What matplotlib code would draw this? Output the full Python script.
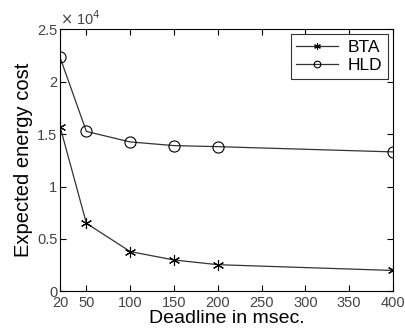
import matplotlib
matplotlib.use("Agg")
import matplotlib.pyplot as plt
from matplotlib.ticker import FuncFormatter

plt.rcParams['font.family'] = ['Liberation Sans', 'DejaVu Sans']

deadline = [20, 50, 100, 150, 200, 400]
bta = [15700, 6500, 3800, 3000, 2550, 2000]
hld = [22300, 15250, 14250, 13900, 13800, 13300]
xticks = [20, 50, 100, 150, 200, 250, 300, 350, 400]
yticks = [0, 5000, 10000, 15000, 20000, 25000]

fig = plt.figure(figsize=(4.06, 3.35), dpi=100)
ax = fig.add_axes([0.148, 0.13, 0.820, 0.783])

asterisk = (6, 2, 0)
ax.plot(deadline, bta, color="#333333", lw=0.9, marker=asterisk, ms=8,
        mec="black", mfc="none", mew=0.8, label="BTA")
ax.plot(deadline, hld, color="#333333", lw=0.9, marker="o", ms=8,
        mec="black", mfc="none", mew=0.8, label="HLD")

ax.set_xlim(20, 400)
ax.set_ylim(0, 25000)
ax.set_xticks(xticks)
ax.set_yticks(yticks)
ax.yaxis.set_major_formatter(FuncFormatter(lambda v, p: "%g" % (v / 1e4)))
ax.text(0.0, 1.005, r"$\times$ 10$^4$", transform=ax.transAxes, ha="left",
        va="bottom", fontsize=10.5, color="#444444")

ax.tick_params(direction="in", top=True, right=True, length=4,
               labelsize=10.5, labelcolor="#444444", pad=2)
ax.tick_params(axis="x", pad=3)
for s in ax.spines.values():
    s.set_linewidth(0.8)

ax.set_xlabel("Deadline in msec.", fontsize=14, labelpad=0)
ax.set_ylabel("Expected energy cost", fontsize=14.5, labelpad=3)

leg = ax.legend(loc="upper right", fontsize=12.5, frameon=True, fancybox=False,
                edgecolor="black", borderaxespad=0.3, handlelength=2.4,
                borderpad=0.3, labelspacing=0.2, markerscale=0.6,
                handletextpad=0.6)
leg.get_frame().set_linewidth(0.8)

fig.savefig("out.png", dpi=100)
